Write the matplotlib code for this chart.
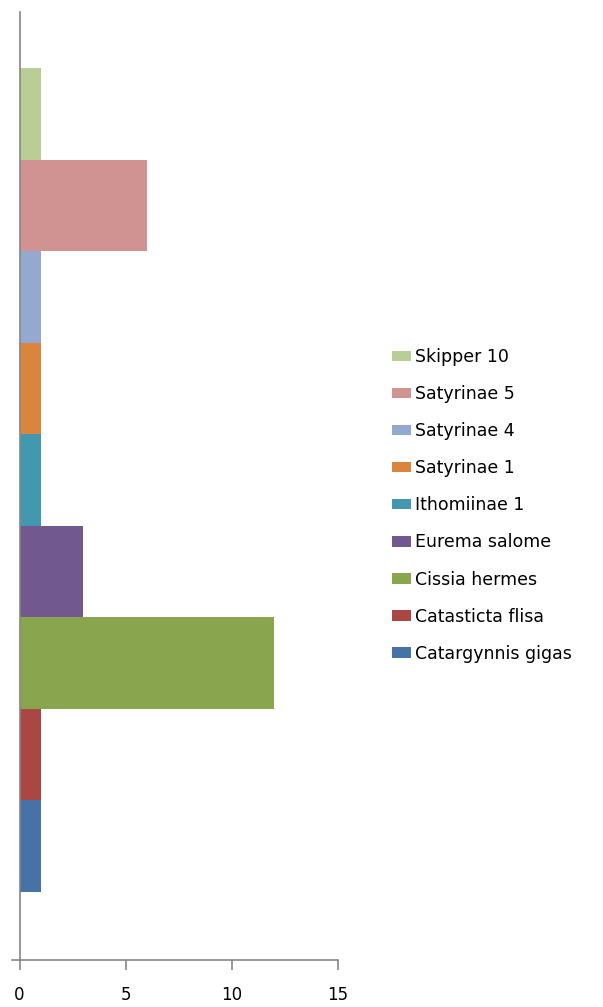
import matplotlib
matplotlib.use('Agg')
import matplotlib.pyplot as plt
from matplotlib.patches import Patch

# species counts, bottom bar first
species = ['Catargynnis gigas', 'Catasticta flisa', 'Cissia hermes', 'Eurema salome',
           'Ithomiinae 1', 'Satyrinae 1', 'Satyrinae 4', 'Satyrinae 5', 'Skipper 10']
counts = [1, 1, 12, 3, 1, 1, 1, 6, 1]
colors = ['#4572A7', '#AA4643', '#89A54E', '#71588F', '#4198AF',
          '#DB843D', '#93A9CF', '#D19392', '#B9CD96']
xticks = [0, 5, 10, 15]

W, H = 603, 1007
fig = plt.figure(figsize=(W / 100, H / 100), dpi=100)
ax = fig.add_axes([19.5 / W, (H - 960) / H, (338 - 19.5) / W, (960 - 12) / H])

pos = list(range(len(species)))
ax.barh(pos, counts, height=1.0, color=colors, edgecolor='none')

ax.set_xlim(0, 15)
ax.set_ylim(-1.243, 9.112)
ax.set_xticks(xticks)
ax.set_yticks([])
for s in ['top', 'right']:
    ax.spines[s].set_visible(False)
for s in ['left', 'bottom']:
    ax.spines[s].set_color('#868686')
    ax.spines[s].set_linewidth(1.2)
# the horizontal axis line runs a little past the vertical one
ax.spines['bottom'].set_bounds(-0.35, 15)
ax.set_xlim(0, 15)
ax.spines['bottom'].set_clip_on(False)
ax.tick_params(axis='x', colors='#868686', length=7, width=1.2, pad=12,
               labelcolor='black', labelsize=12)

handles = [Patch(facecolor=c, edgecolor='none') for c in colors][::-1]
labels = species[::-1]
fig.legend(handles, labels, loc='upper left', bbox_to_anchor=(392 / W, 1 - 348 / H),
           frameon=False, fontsize=12.5, handlelength=1.1, handleheight=0.55,
           handletextpad=0.2, labelspacing=1.1, borderpad=0, borderaxespad=0)

fig.savefig('out.png', dpi=100)
